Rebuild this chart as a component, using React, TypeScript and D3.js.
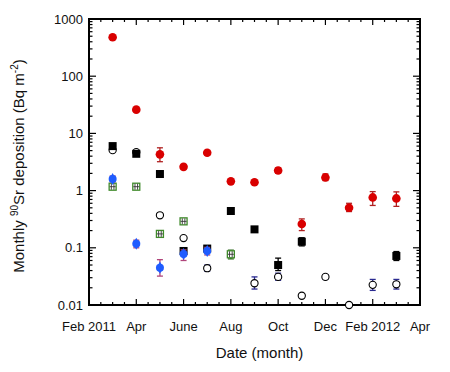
import * as d3 from "d3";
import * as React from "react";

// month index 0 = Feb 2011
const monthIdx = [1, 2, 3, 4, 5, 6, 7, 8, 9, 10, 11, 12, 13];
const xTickLabels = ["Feb 2011", "Apr", "June", "Aug", "Oct", "Dec", "Feb 2012", "Apr"];
const yTickValues = [0.01, 0.1, 1, 10, 100, 1000];
const yTickLabels = ["0.01", "0.1", "1", "10", "100", "1000"];

const redVals = [480, 26, 4.3, 2.6, 4.6, 1.45, 1.4, 2.25, 0.26, 1.7, 0.5, 0.76, 0.73];
const redLo = [null, null, 3.2, 2.4, 4.2, 1.35, 1.3, 2.0, 0.2, 1.5, 0.43, 0.55, 0.53];
const redHi = [null, null, 5.6, 2.8, 5.0, 1.55, 1.5, 2.5, 0.32, 1.95, 0.6, 0.96, 0.95];

const blackVals = [6.0, 4.4, 1.95, 0.088, 0.097, 0.44, 0.21, 0.05, 0.128, null, null, null, 0.072];
const blackLo = [null, null, null, null, null, null, null, 0.04, 0.108, null, null, null, 0.06];
const blackHi = [null, null, null, null, null, null, null, 0.066, 0.15, null, null, null, 0.086];

const openVals = [5.1, 4.7, 0.37, 0.148, 0.044, null, 0.024, 0.031, 0.0145, 0.031, 0.01, 0.0225, 0.023];
const openLo = [null, null, null, null, 0.039, null, 0.019, 0.027, null, 0.028, 0.0093, 0.018, 0.019];
const openHi = [null, null, null, null, 0.05, null, 0.031, 0.036, null, 0.034, 0.0108, 0.028, 0.028];

const blueVals = [1.6, 0.118, 0.045, 0.078, 0.088, null, null, null, null, null, null, null, null];
const blueLo = [1.42, 0.1, 0.032, 0.06, 0.075, null, null, null, null, null, null, null, null];
const blueHi = [1.8, 0.136, 0.062, 0.092, 0.102, null, null, null, null, null, null, null, null];

const greenVals = [1.17, 1.17, 0.175, 0.29, null, 0.077, null, null, null, null, null, null, null];
const greenLo = [null, null, null, null, null, 0.064, null, null, null, null, null, null, null];
const greenHi = [null, null, null, null, null, 0.091, null, null, null, null, null, null, null];

const W = 450;
const H = 372;
const margin = { top: 19, right: 30, bottom: 67, left: 89 };

export default function App() {
  const ref = React.useRef<SVGSVGElement>(null);

  React.useEffect(() => {
    const svg = d3.select(ref.current as SVGSVGElement);
    svg.selectAll("*").remove();

    const x0 = margin.left, x1 = W - margin.right;
    const y0 = H - margin.bottom, y1 = margin.top;

    const x = d3.scaleLinear().domain([0, 14]).range([x0, x1]);
    const y = d3.scaleLog().domain([0.01, 1000]).range([y0, y1]);

    const g = svg.append("g");
    const font = "'Liberation Sans', Arial, sans-serif";

    // minor x ticks every half month, major every 2 months
    const xt = d3.range(0, 14.01, 0.5);
    xt.forEach((t) => {
      const len = t % 2 === 0 ? 6 : 3;
      g.append("line").attr("x1", x(t)).attr("x2", x(t)).attr("y1", y0).attr("y2", y0 - len)
        .attr("stroke", "#000").attr("stroke-width", 1.2);
      g.append("line").attr("x1", x(t)).attr("x2", x(t)).attr("y1", y1).attr("y2", y1 + len)
        .attr("stroke", "#000").attr("stroke-width", 1.2);
    });

    // log y ticks
    const yt: number[] = [];
    for (let e = -2; e < 3; e++) for (let m = 1; m < 10; m++) yt.push(m * Math.pow(10, e));
    yt.push(1000);
    yt.forEach((v) => {
      const major = Math.abs(Math.log10(v) - Math.round(Math.log10(v))) < 1e-9;
      const len = major ? 7 : 3.5;
      g.append("line").attr("x1", x0).attr("x2", x0 + len).attr("y1", y(v)).attr("y2", y(v))
        .attr("stroke", "#000").attr("stroke-width", 1.2);
      g.append("line").attr("x1", x1).attr("x2", x1 - len).attr("y1", y(v)).attr("y2", y(v))
        .attr("stroke", "#000").attr("stroke-width", 1.2);
    });

    // frame
    g.append("rect").attr("x", x0).attr("y", y1).attr("width", x1 - x0).attr("height", y0 - y1)
      .attr("fill", "none").attr("stroke", "#000").attr("stroke-width", 2);

    // tick labels
    yTickValues.forEach((v, i) => {
      g.append("text").attr("x", x0 - 6).attr("y", y(v)).attr("dy", "0.36em")
        .attr("text-anchor", "end").attr("font-family", font).attr("font-size", 13)
        .attr("fill", "#111").text(yTickLabels[i]);
    });
    xTickLabels.forEach((s, i) => {
      g.append("text").attr("x", x(i * 2)).attr("y", y0 + 26)
        .attr("text-anchor", "middle").attr("font-family", font).attr("font-size", 13)
        .attr("fill", "#111").text(s);
    });

    // axis titles
    g.append("text").attr("x", (x0 + x1) / 2 + 5).attr("y", 358).attr("text-anchor", "middle")
      .attr("font-family", font).attr("font-size", 15).attr("fill", "#111").text("Date (month)");

    const yl = g.append("text").attr("transform", `translate(24,${(y0 + y1) / 2 + 4}) rotate(-90)`)
      .attr("text-anchor", "middle").attr("font-family", font).attr("font-size", 15).attr("fill", "#111");
    yl.append("tspan").text("Monthly ");
    yl.append("tspan").attr("font-size", 10).attr("dy", -6).text("90");
    yl.append("tspan").attr("dy", 6).text("Sr deposition (Bq m");
    yl.append("tspan").attr("font-size", 10).attr("dy", -6).text("-2");
    yl.append("tspan").attr("dy", 6).text(")");

    const errBars = (lo: (number | null)[], hi: (number | null)[], color: string) => {
      monthIdx.forEach((m, i) => {
        const l = lo[i], h = hi[i];
        if (l == null || h == null) return;
        const cx = x(m);
        g.append("line").attr("x1", cx).attr("x2", cx).attr("y1", y(l)).attr("y2", y(h))
          .attr("stroke", color).attr("stroke-width", 1.3);
        [l, h].forEach((v) =>
          g.append("line").attr("x1", cx - 3).attr("x2", cx + 3).attr("y1", y(v)).attr("y2", y(v))
            .attr("stroke", color).attr("stroke-width", 1.3)
        );
      });
    };

    // open circles
    errBars(openLo, openHi, "#2a2a90");
    monthIdx.forEach((m, i) => {
      const v = openVals[i];
      if (v == null) return;
      g.append("circle").attr("cx", x(m)).attr("cy", y(v)).attr("r", 3.6)
        .attr("fill", "#fff").attr("stroke", "#000").attr("stroke-width", 1.1);
    });

    // black squares
    errBars(blackLo, blackHi, "#000");
    monthIdx.forEach((m, i) => {
      const v = blackVals[i];
      if (v == null) return;
      g.append("rect").attr("x", x(m) - 4).attr("y", y(v) - 4).attr("width", 8).attr("height", 8)
        .attr("fill", "#000");
    });

    // green crossed squares
    errBars(greenLo, greenHi, "#2f6b1e");
    monthIdx.forEach((m, i) => {
      const v = greenVals[i];
      if (v == null) return;
      const cx = x(m), cy = y(v);
      g.append("rect").attr("x", cx - 3.5).attr("y", cy - 3.5).attr("width", 7).attr("height", 7)
        .attr("fill", "#fff").attr("stroke", "#3f8a2a").attr("stroke-width", 1.3);
      g.append("line").attr("x1", cx - 1.3).attr("x2", cx - 1.3).attr("y1", cy - 3).attr("y2", cy + 3)
        .attr("stroke", "#333").attr("stroke-width", 0.9);
      g.append("line").attr("x1", cx + 1.3).attr("x2", cx + 1.3).attr("y1", cy - 3).attr("y2", cy + 3)
        .attr("stroke", "#333").attr("stroke-width", 0.9);
      g.append("line").attr("x1", cx - 3).attr("x2", cx + 3).attr("y1", cy).attr("y2", cy)
        .attr("stroke", "#333").attr("stroke-width", 0.9);
    });

    // blue markers
    errBars(blueLo, blueHi, "#b0457a");
    const diamond = d3.symbol().type(d3.symbolDiamond).size(42);
    monthIdx.forEach((m, i) => {
      const v = blueVals[i];
      if (v == null) return;
      g.append("path").attr("d", diamond()).attr("transform", `translate(${x(m)},${y(v)})`)
        .attr("fill", "#1f5cff");
      g.append("circle").attr("cx", x(m)).attr("cy", y(v)).attr("r", 4).attr("fill", "#1f5cff");
    });

    // red circles
    errBars(redLo, redHi, "#b02020");
    monthIdx.forEach((m, i) => {
      const v = redVals[i];
      if (v == null) return;
      g.append("circle").attr("cx", x(m)).attr("cy", y(v)).attr("r", 4.3).attr("fill", "#d90000");
    });
  }, []);

  return (
    <svg ref={ref} width={W} height={H} style={{ position: "absolute", left: 0, top: 0, background: "#fff" }} />
  );
}
